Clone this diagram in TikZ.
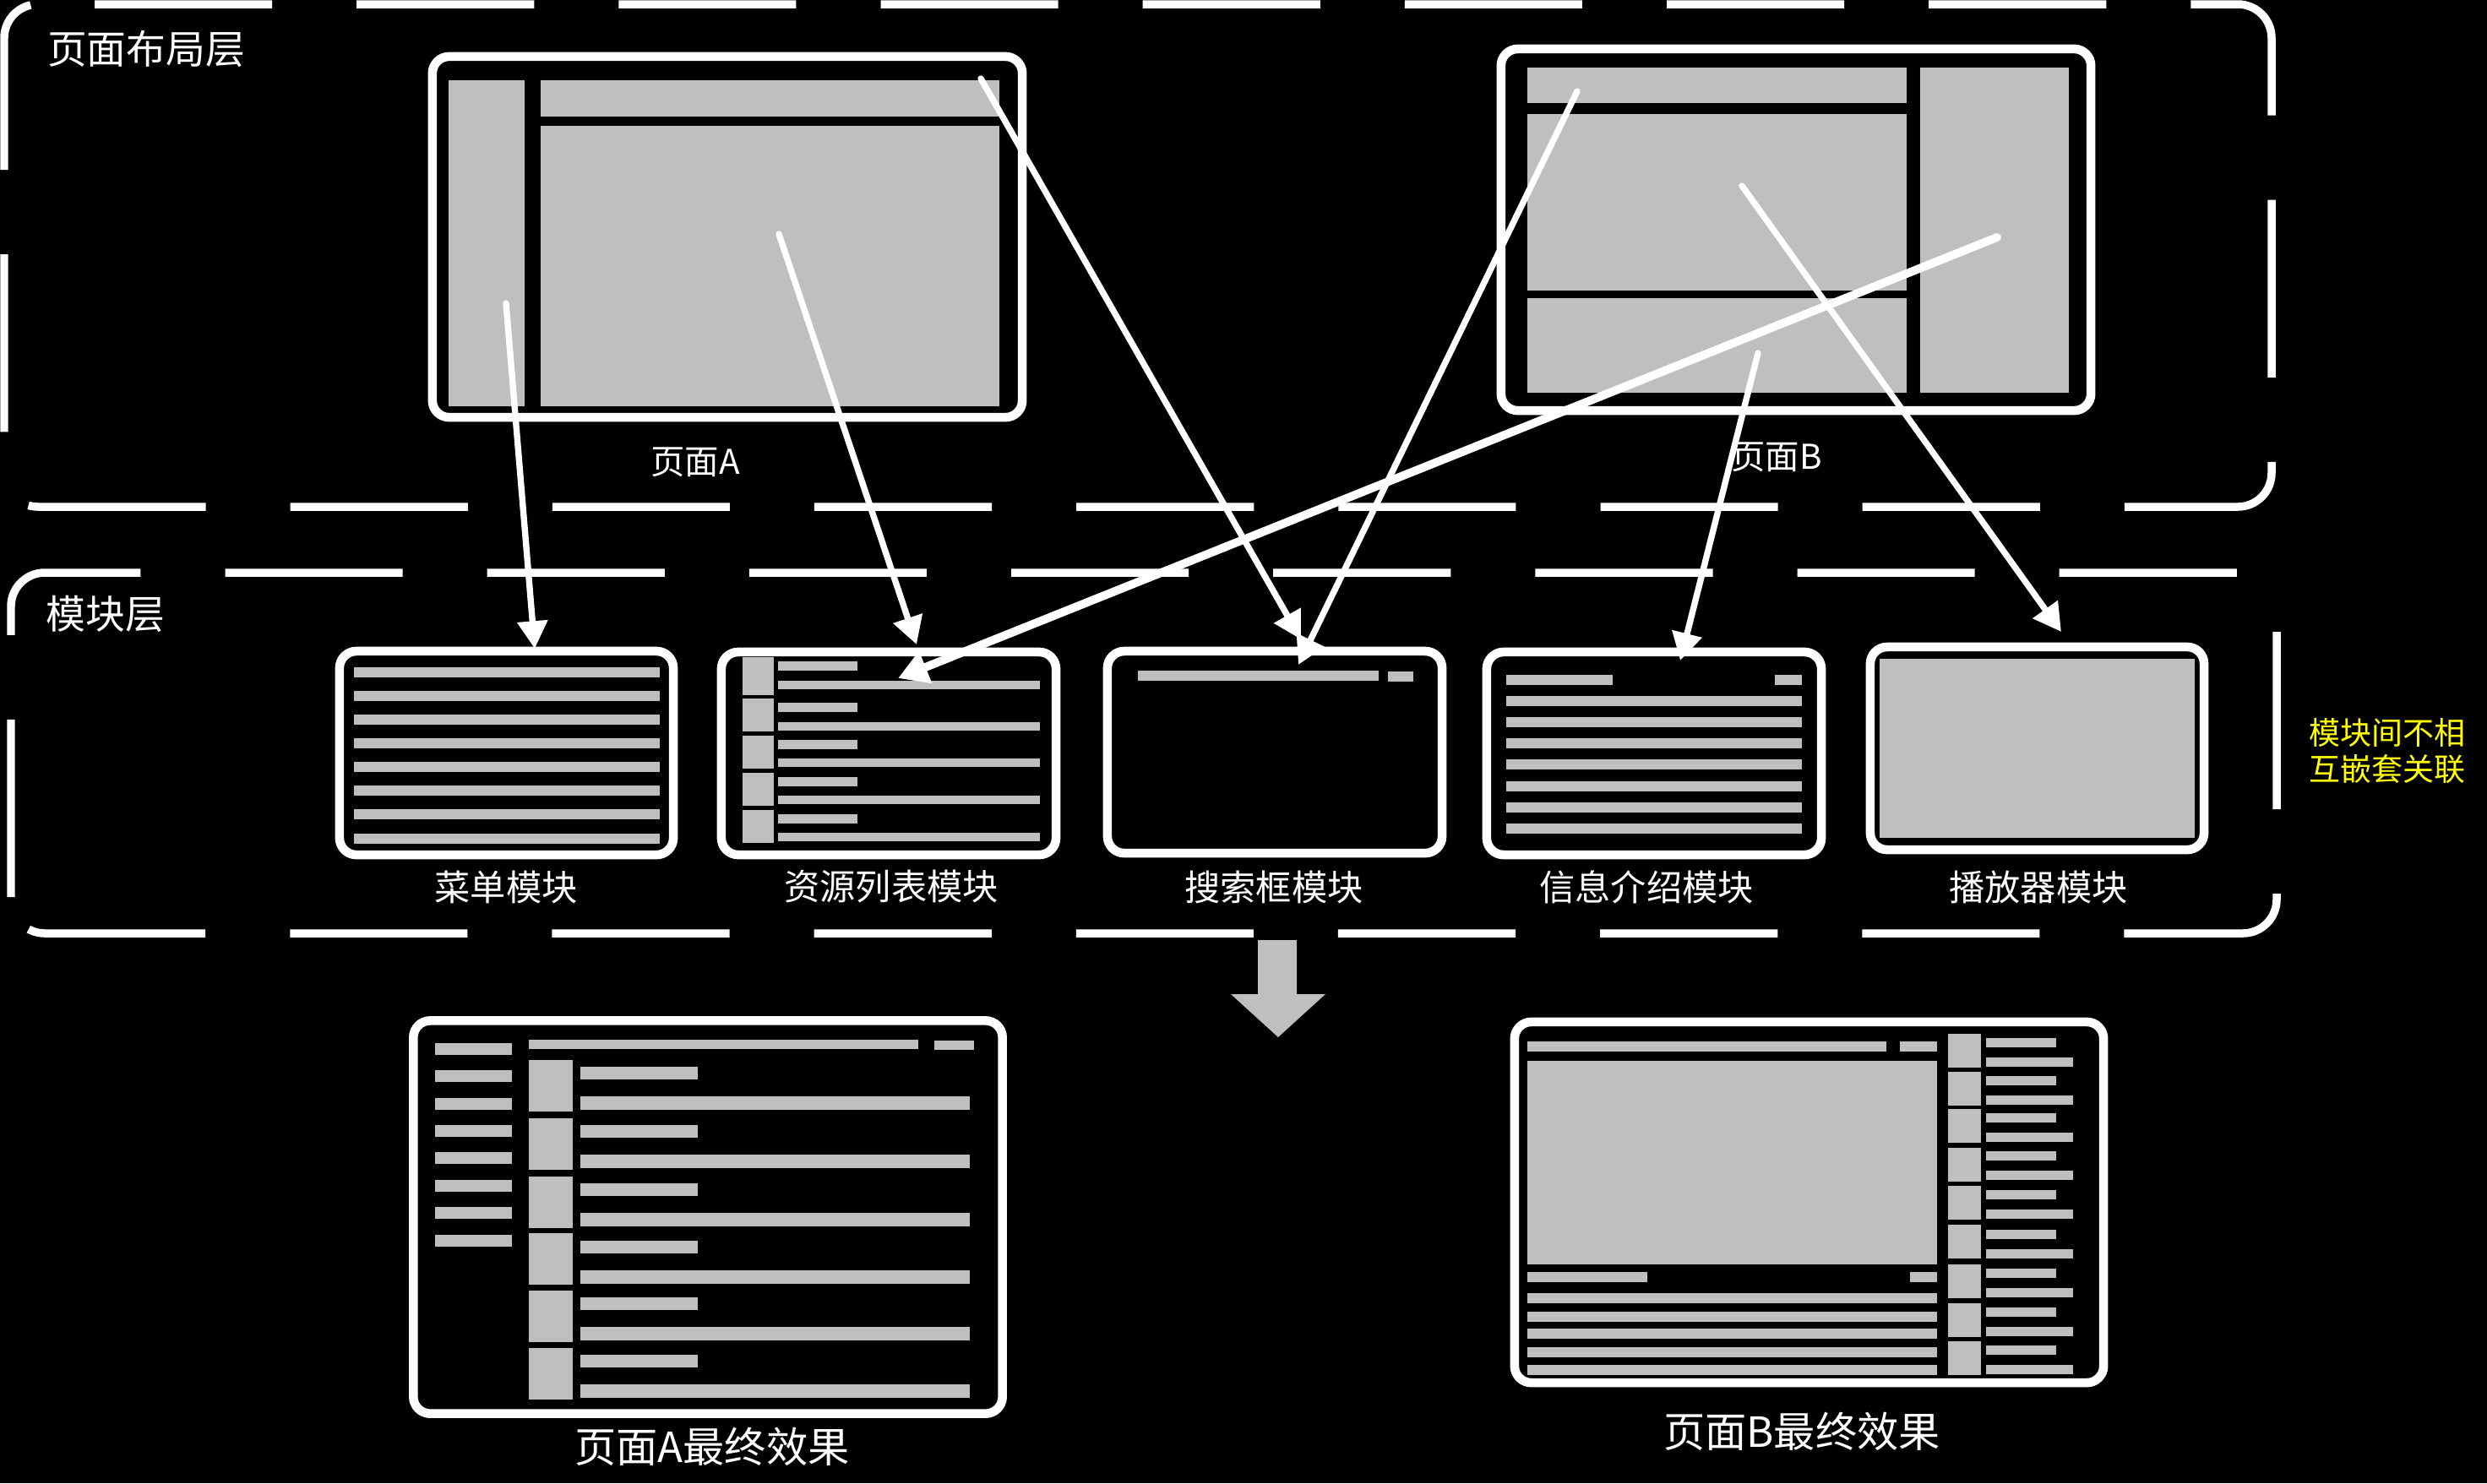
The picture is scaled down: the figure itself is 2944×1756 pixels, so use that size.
\documentclass[tikz,border=0pt]{standalone}
\usepackage{fontspec}
\newfontfamily\cjk{Noto Sans CJK SC}
\usetikzlibrary{arrows.meta}
\definecolor{lgray}{HTML}{BFBFBF}
\definecolor{ylw}{HTML}{FFFF00}
\newcommand\gbox[4]{\fill[lgray] (#1,#2) rectangle (#3,#4);}
\tikzset{
  frame/.style={draw=white, line width=3pt, rounded corners=0.2cm, rectangle, inner sep=0pt},
  layer/.style={draw=white, line width=2.7pt, rounded corners=0.4cm, dash pattern=on 59.75pt off 28.45pt},
  lbl/.style={text=white, font=\cjk\fontsize{12pt}{14pt}\selectfont, inner sep=0pt},
  plbl/.style={text=white, font=\cjk\fontsize{11.5pt}{14pt}\selectfont, inner sep=0pt},
  flbl/.style={text=white, font=\cjk\fontsize{14pt}{17pt}\selectfont, inner sep=0pt},
  ttl/.style={text=white, font=\cjk\fontsize{13.3pt}{16pt}\selectfont, inner sep=0pt},
  arr/.style={draw=white, line width=2.1pt, line cap=round, -{Triangle[length=9.3pt,width=9.9pt]}},
  arrthick/.style={draw=white, line width=2.8pt, line cap=round, -{Triangle[length=10pt,width=11pt]}},
}
\begin{document}
\begin{tikzpicture}[x=0.01cm,y=-0.01cm]
\fill[black] (0,0) rectangle (2944,1756);
% ---------- layers ----------
\draw[layer] (112,5) -- (2689,5) -- (2689,600) -- (5,600) -- (5,5) -- (112,5);
\draw[layer] (13,1062) -- (13,678) -- (2695,678) -- (2695,1105) -- (13,1105) -- (13,1062);
\node[ttl] (tlayout) at (173,58) {页面布局层};
\node[ttl] (tmodule) at (125,727) {模块层};

% ---------- page A layout ----------
\gbox{531}{95}{621}{481}
\gbox{640}{95}{1183}{138}
\gbox{640}{149}{1183}{481}
\node[frame, minimum width=6.98cm, minimum height=4.27cm] (pageA) at (861,280.5) {};
\node[plbl] (pageAlbl) at (823,547) {页面A};

% ---------- page B layout ----------
\gbox{1808}{80}{2257}{122}
\gbox{1808}{135}{2257}{344}
\gbox{1808}{353}{2257}{465}
\gbox{2273}{80}{2449}{465}
\node[frame, minimum width=6.98cm, minimum height=4.28cm] (pageB) at (2126,272) {};
\node[plbl] (pageBlbl) at (2103,541) {页面B};

% ---------- modules ----------
% menu
\foreach \y in {790,818,846,874,902,930,958,987} {\gbox{419}{\y}{781}{\y+12}}
\node[frame, minimum width=3.95cm, minimum height=2.41cm] (menu) at (599.5,891.5) {};
\node[lbl] (menulbl) at (599,1050) {菜单模块};
% resource list
\gbox{879}{778}{916}{823}
\foreach \y in {827,871,915,959} {\gbox{879}{\y}{916}{\y+39}}
\foreach \y in {783,832,876,920,964} {\gbox{921}{\y}{1015}{\y+11}}
\foreach \y in {806,855,898,942,986} {\gbox{921}{\y}{1231}{\y+10}}
\node[frame, minimum width=3.96cm, minimum height=2.40cm] (res) at (1052,892) {};
\node[lbl] (reslbl) at (1055,1050) {资源列表模块};
% search
\gbox{1347}{794}{1632}{806}
\gbox{1643}{795}{1673}{807}
\node[frame, minimum width=3.96cm, minimum height=2.39cm] (search) at (1509,890.5) {};
\node[lbl] (searchlbl) at (1508,1050) {搜索框模块};
% info
\gbox{1783}{799}{1909}{811}
\gbox{2101}{799}{2133}{811}
\foreach \y in {824,849,874,899,925,950,975} {\gbox{1783}{\y}{2133}{\y+12}}
\node[frame, minimum width=3.96cm, minimum height=2.40cm] (info) at (1958,892) {};
\node[lbl] (infolbl) at (1949,1050) {信息介绍模块};
% player
\gbox{2225}{780}{2598}{992}
\node[frame, minimum width=3.95cm, minimum height=2.40cm] (player) at (2411.5,886) {};
\node[lbl] (playerlbl) at (2413,1050) {播放器模块};
% note
\node[align=center, text=ylw, font=\cjk\fontsize{10.5pt}{12pt}\selectfont, inner sep=0pt] (note) at (2826,889) {模块间不相\\互嵌套关联};

% ---------- big arrow ----------
\fill[lgray] (1489,1113) -- (1535,1113) -- (1535,1177) -- (1569,1177) -- (1513,1228) -- (1457,1177) -- (1489,1177) -- cycle;

% ---------- final A ----------
\foreach \y in {1235,1267,1300,1332,1364,1397,1429,1462} {\gbox{515}{\y}{606}{\y+14}}
\gbox{626}{1231}{1087}{1242}
\gbox{1106}{1232}{1153}{1243}
\foreach \y in {1255,1324,1393,1460,1528,1596} {\gbox{626}{\y}{678}{\y+61}}
\foreach \y in {1263,1332,1401,1469,1536,1604} {\gbox{687}{\y}{826}{\y+15}\gbox{687}{\y+35}{1148}{\y+51}}
\node[frame, minimum width=6.97cm, minimum height=4.65cm] (finalA) at (838,1441) {};
\node[flbl] (finalAlbl) at (843,1713) {页面A最终效果};

% ---------- final B ----------
\gbox{1808}{1233}{2233}{1245}
\gbox{2249}{1233}{2293}{1245}
\gbox{1808}{1256}{2293}{1497}
\gbox{1808}{1506}{1950}{1518}
\gbox{2261}{1506}{2293}{1518}
\foreach \y in {1531,1553,1573,1595,1616} {\gbox{1808}{\y}{2293}{\y+12}}
\foreach \y in {1224,1269,1313,1359,1404,1450,1497,1543,1588} {\gbox{2306}{\y}{2345}{\y+40}}
\foreach \y in {1229,1274,1318,1363,1409,1456,1502,1548,1593} {\gbox{2351}{\y}{2434}{\y+11}\gbox{2351}{\y+23}{2454}{\y+34}}
\node[frame, minimum width=6.97cm, minimum height=4.27cm] (finalB) at (2141.5,1423.5) {};
\node[flbl] (finalBlbl) at (2133,1695) {页面B最终效果};

% ---------- connectors ----------
\coordinate (sA1) at (599,359);   \coordinate (eMenu) at (633,768);
\coordinate (sA2) at (922,277);   \coordinate (eRes1) at (1085,763);
\coordinate (sA3) at (1161,93);   \coordinate (eSea1) at (1540,757);
\coordinate (sB1) at (1867,108);  \coordinate (eSea2) at (1537,787);
\coordinate (sB2) at (2364,281);  \coordinate (eRes2) at (1063,803);
\coordinate (sB3) at (2062,220);  \coordinate (ePly) at (2440,748);
\coordinate (sB4) at (2081,418);  \coordinate (eInf) at (1989,782);
\draw[arr] (sA1) -- (eMenu);
\draw[arr] (sA2) -- (eRes1);
\draw[arr] (sA3) -- (eSea1);
\draw[arr] (sB1) -- (eSea2);
\draw[arrthick] (sB2) -- (eRes2);
\draw[arr] (sB3) -- (ePly);
\draw[arr] (sB4) -- (eInf);
\end{tikzpicture}
\end{document}
